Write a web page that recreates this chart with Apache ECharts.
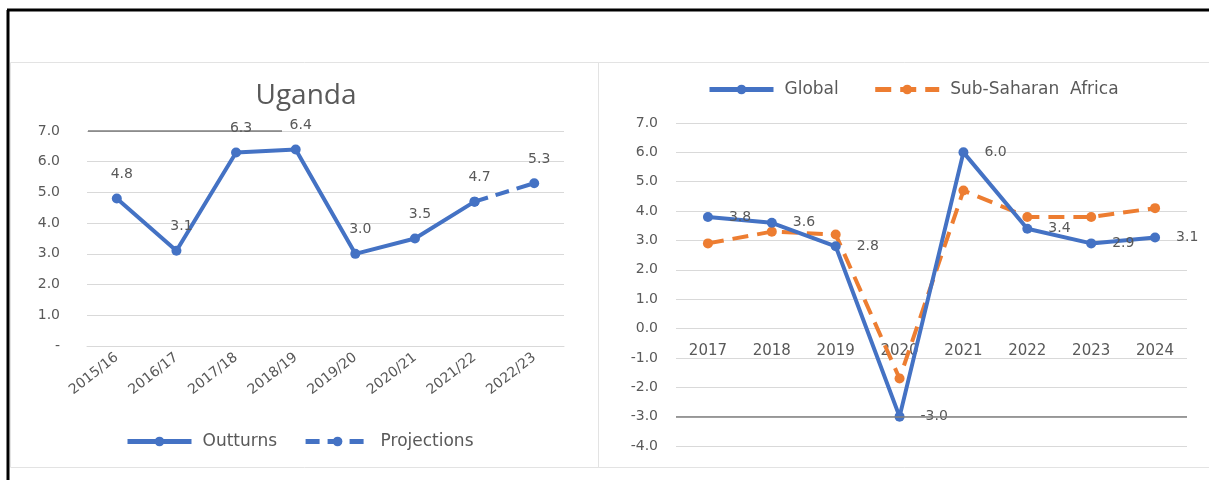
<!DOCTYPE html>
<html>
<head>
<meta charset="utf-8">
<script src="https://cdn.jsdelivr.net/npm/echarts@6/dist/echarts.min.js"></script>
<style>
  html, body { margin: 0; padding: 0; background: #ffffff; }
  #chart { width: 1209px; height: 480px; }
</style>
</head>
<body>
<div id="chart"></div>
<script>
// Uganda real GDP growth (fiscal years)
const ugandaYears = ['2015/16', '2016/17', '2017/18', '2018/19', '2019/20', '2020/21', '2021/22', '2022/23'];
const outturns    = [4.8, 3.1, 6.3, 6.4, 3.0, 3.5, 4.7, null];
const projections = [null, null, null, null, null, null, 4.7, 5.3];
const ugandaTicks = [0, 1, 2, 3, 4, 5, 6, 7];

// Global vs Sub-Saharan Africa growth (calendar years)
const worldYears = ['2017', '2018', '2019', '2020', '2021', '2022', '2023', '2024'];
const globalGrowth = [3.8, 3.6, 2.8, -3.0, 6.0, 3.4, 2.9, 3.1];
const ssaGrowth    = [2.9, 3.3, 3.2, -1.7, 4.7, 3.8, 3.8, 4.1];
const worldTicks = [-4, -3, -2, -1, 0, 1, 2, 3, 4, 5, 6, 7];

const BLUE = '#4472C4';
const ORANGE = '#ED7D31';
const TEXT = '#595959';
const GRID = '#d9d9d9';
const FONT = 'DejaVu Sans';

const W = 1209, H = 480;
const leftGrid  = { left: 87,  right: W - 564,  top: 131, bottom: H - 346 };
const rightGrid = { left: 676, right: W - 1187, top: 123, bottom: H - 446 };

// the year axis of the right panel sits on the zero line
const wMin = worldTicks[0], wMax = worldTicks[worldTicks.length - 1];
const rightPlotH = H - rightGrid.top - rightGrid.bottom;
const zeroOffset = -((0 - wMin) / (wMax - wMin)) * rightPlotH;

const chart = echarts.init(document.getElementById('chart'));

const legendBase = {
  itemWidth: 64, itemHeight: 12,
  lineStyle: { width: 5 },
  textStyle: { color: TEXT, fontFamily: FONT, fontSize: 17, padding: [0, 0, 0, 6] }
};

const valueLabel = {
  color: TEXT, fontFamily: FONT, fontSize: 14
};

chart.setOption({
  animation: false,
  backgroundColor: '#ffffff',
  title: {
    text: 'Uganda',
    left: 301, top: 77, textAlign: 'center',
    textStyle: { color: TEXT, fontFamily: 'Open Sans', fontSize: 28, fontWeight: 'normal' }
  },
  legend: [
    Object.assign({}, legendBase, {
      left: 120, top: 428, itemGap: 26,
      data: ['Outturns', 'Projections']
    }),
    Object.assign({}, legendBase, {
      left: 702, top: 76, itemGap: 34,
      data: ['Global', 'Sub-Saharan  Africa']
    })
  ],
  grid: [leftGrid, rightGrid],
  xAxis: [
    {
      gridIndex: 0, type: 'category', data: ugandaYears, boundaryGap: true,
      axisLine: { show: true, lineStyle: { color: GRID, width: 1 } },
      axisTick: { show: false },
      axisLabel: { rotate: 38, margin: 10, color: TEXT, fontFamily: FONT, fontSize: 14 }
    },
    {
      gridIndex: 1, type: 'category', data: worldYears, boundaryGap: true,
      position: 'bottom', offset: zeroOffset,
      axisLine: { show: false, onZero: false },
      axisTick: { show: false },
      axisLabel: { margin: 15, color: TEXT, fontFamily: FONT, fontSize: 15 }
    }
  ],
  yAxis: [
    {
      gridIndex: 0, type: 'value', min: ugandaTicks[0], max: ugandaTicks[ugandaTicks.length - 1], interval: 1,
      axisLine: { show: false }, axisTick: { show: false },
      splitLine: { lineStyle: { color: GRID, width: 1 } },
      axisLabel: Object.assign({}, valueLabel, {
        margin: 27,
        formatter: (v) => (v === 0 ? '-' : v.toFixed(1))
      })
    },
    {
      gridIndex: 1, type: 'value', min: wMin, max: wMax, interval: 1,
      axisLine: { show: false }, axisTick: { show: false },
      splitLine: { lineStyle: { color: GRID, width: 1 } },
      axisLabel: Object.assign({}, valueLabel, {
        margin: 18,
        formatter: (v) => v.toFixed(1)
      })
    }
  ],
  series: [
    {
      name: 'Outturns', type: 'line', xAxisIndex: 0, yAxisIndex: 0,
      data: outturns,
      symbol: 'circle', symbolSize: 10,
      lineStyle: { color: BLUE, width: 4 },
      itemStyle: { color: BLUE },
      label: Object.assign({}, valueLabel, {
        show: true, position: 'top', distance: 12, offset: [5, 0],
        formatter: (p) => p.value.toFixed(1)
      }),
      z: 3
    },
    {
      name: 'Projections', type: 'line', xAxisIndex: 0, yAxisIndex: 0,
      data: projections,
      symbol: 'circle', symbolSize: 10,
      lineStyle: { color: BLUE, width: 4, type: [14, 8] },
      itemStyle: { color: BLUE },
      label: Object.assign({}, valueLabel, {
        show: true, position: 'top', distance: 12, offset: [5, 0],
        formatter: (p) => (p.dataIndex === projections.length - 1 ? p.value.toFixed(1) : '')
      }),
      z: 3
    },
    {
      name: 'Global', type: 'line', xAxisIndex: 1, yAxisIndex: 1,
      data: globalGrowth,
      symbol: 'circle', symbolSize: 10,
      lineStyle: { color: BLUE, width: 4 },
      itemStyle: { color: BLUE },
      label: Object.assign({}, valueLabel, {
        show: true, position: 'right', distance: 16,
        formatter: (p) => p.value.toFixed(1)
      }),
      markLine: {
        silent: true, symbol: 'none',
        label: { show: false },
        lineStyle: { color: '#7f7f7f', type: 'solid', width: 1.5 },
        data: [{ yAxis: -3 }]
      },
      z: 4
    },
    {
      name: 'Sub-Saharan  Africa', type: 'line', xAxisIndex: 1, yAxisIndex: 1,
      data: ssaGrowth,
      symbol: 'circle', symbolSize: 10,
      lineStyle: { color: ORANGE, width: 4, type: [16, 9] },
      itemStyle: { color: ORANGE },
      z: 3
    }
  ],
  graphic: [
    // outer frame: heavy black rule along the top and left edges
    { type: 'line', shape: { x1: 7, y1: 10, x2: W, y2: 10 }, style: { stroke: '#000000', lineWidth: 3 }, z: 10 },
    { type: 'line', shape: { x1: 8, y1: 10, x2: 8, y2: H }, style: { stroke: '#000000', lineWidth: 3 }, z: 10 },
    // light panel outlines around the two charts
    { type: 'rect', shape: { x: 10.5, y: 62.5, width: 588, height: 405 }, style: { fill: null, stroke: '#e3e3e3', lineWidth: 1 }, z: -1 },
    { type: 'rect', shape: { x: 598.5, y: 62.5, width: 620, height: 405 }, style: { fill: null, stroke: '#e3e3e3', lineWidth: 1 }, z: -1 },
    // dark rule over the top gridline of the Uganda panel
    { type: 'line', shape: { x1: 88, y1: 131, x2: 282, y2: 131 }, style: { stroke: '#404040', lineWidth: 1.2 }, z: 1 }
  ]
});
</script>
</body>
</html>
